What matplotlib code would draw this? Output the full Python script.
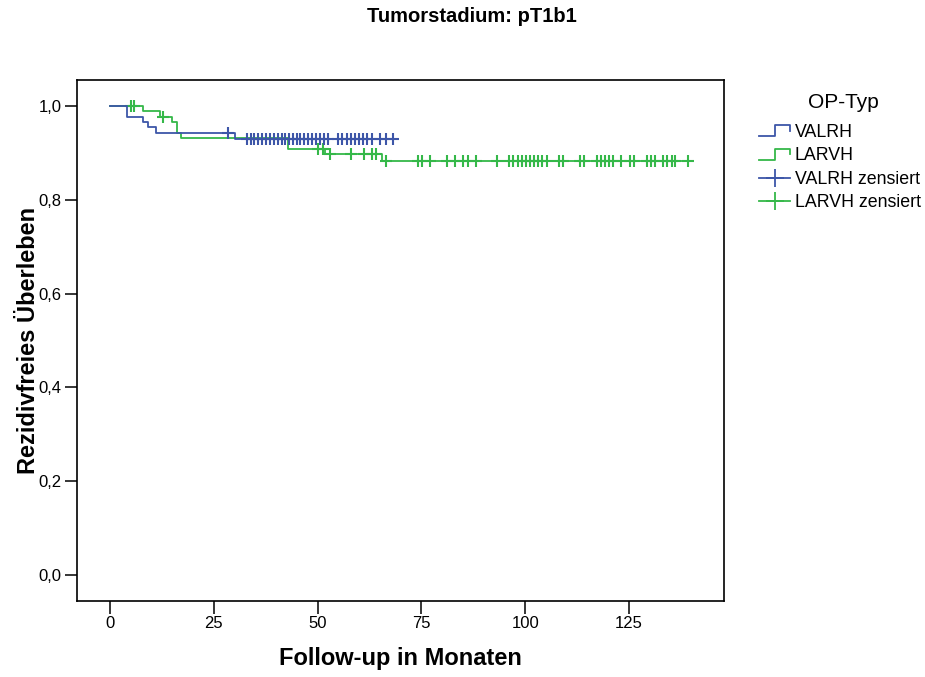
import matplotlib
matplotlib.use("Agg")
import matplotlib.pyplot as plt
import numpy as np
from matplotlib.lines import Line2D
from matplotlib.legend_handler import HandlerBase

plt.rcParams['font.family'] = ['Liberation Sans', 'DejaVu Sans']

# VALRH: event times (months) and survival after each event
valrh_events = [4.0, 7.9, 9.1, 11.0, 30.1]
valrh_surv = [0.977, 0.965, 0.954, 0.942, 0.929]
valrh_censored = [28.4, 33.0, 33.9, 34.8, 35.7, 36.7, 37.6, 38.5, 39.5, 40.4,
                  41.4, 42.1, 43.1, 44.0, 45.0, 45.8, 46.7, 47.6, 48.6, 49.6,
                  50.6, 51.5, 52.6, 55.0, 55.9, 57.0, 58.0, 59.0, 60.0, 61.0,
                  62.0, 63.0, 65.0, 66.5, 68.1]

# LARVH
larvh_events = [7.9, 12.0, 14.9, 16.2, 17.1, 42.9, 51.8, 65.5]
larvh_surv = [0.990, 0.977, 0.966, 0.943, 0.931, 0.908, 0.897, 0.883]
larvh_censored = [5.1, 5.9, 12.8, 50.2, 51.2, 53.0, 58.0, 61.2, 63.0, 64.1,
                  66.4, 74.3, 75.1, 77.1, 81.1, 83.1, 85.1, 86.2, 88.2, 93.3,
                  96.1, 97.1, 98.2, 99.2, 100.1, 101.2, 102.1, 103.2, 104.1, 105.2,
                  108.2, 109.2, 113.2, 114.2, 117.2, 118.3, 119.2, 120.2, 121.2, 123.2,
                  125.2, 126.2, 129.3, 130.2, 131.3, 133.3, 134.2, 135.3, 136.2, 139.3]

x_ticks = [0, 25, 50, 75, 100, 125]
y_ticks = [0.0, 0.2, 0.4, 0.6, 0.8, 1.0]

blue = '#3d56a8'
green = '#35b849'


def km_curve(events, surv, censored):
    t = np.r_[0.0, events, max(censored)]
    s = np.r_[1.0, surv, surv[-1]]
    idx = np.searchsorted(events, censored, side='right')
    cs = np.r_[1.0, surv][idx]
    return t, s, cs


class HandlerStep(HandlerBase):
    def create_artists(self, legend, orig_handle, xdescent, ydescent,
                       width, height, fontsize, trans):
        xs = np.array([0, 0.5, 0.5, 1.0, 1.0]) * width - xdescent
        ys = np.array([0.05, 0.05, 0.95, 0.95, 0.5]) * height - ydescent
        ln = Line2D(xs, ys, color=orig_handle.get_color(),
                    lw=orig_handle.get_linewidth())
        ln.set_transform(trans)
        return [ln]


fig = plt.figure(figsize=(9.25, 6.77), dpi=100)
ax = fig.add_axes([77 / 925, 76 / 677, 647 / 925, 521 / 677])

for events, surv, cens, col in [(larvh_events, larvh_surv, larvh_censored, green),
                                (valrh_events, valrh_surv, valrh_censored, blue)]:
    t, s, cs = km_curve(events, surv, cens)
    ax.plot(t, s, drawstyle='steps-post', color=col, lw=1.3)
    ax.plot(cens, cs, linestyle='none', marker='+', markersize=9,
            markeredgewidth=1.5, color=col)

ax.set_xlim(-7.95, 147.9)
ax.set_ylim(-0.055, 1.055)
ax.set_xticks(x_ticks)
ax.set_yticks(y_ticks)
ax.set_yticklabels([f'{v:.1f}'.replace('.', ',') for v in y_ticks])
ax.tick_params(direction='out', length=9, width=1.1, labelsize=12, pad=2)
for sp in ax.spines.values():
    sp.set_linewidth(1.2)

ax.set_xlabel('Follow-up in Monaten', fontsize=17, fontweight='bold')
ax.xaxis.set_label_coords(0.5, -0.11)
ax.xaxis.label.set_va('center')
ax.set_ylabel('Rezidivfreies Überleben', fontsize=17, fontweight='bold')
ax.yaxis.set_label_coords(-0.0757, 0.5)
ax.yaxis.label.set_va('center')

fig.text(0.51, 1 - 17 / 677, 'Tumorstadium: pT1b1', ha='center', va='center',
         fontsize=14.5, fontweight='bold')

fig.text(843 / 925, 1 - 103 / 677, 'OP-Typ', ha='center', va='center', fontsize=15)

h_valrh = Line2D([], [], color=blue, lw=1.3)
h_larvh = Line2D([], [], color=green, lw=1.3)
h_vc = Line2D([], [], color=blue, lw=1.3, marker='+', markersize=13, markeredgewidth=1.3)
h_lc = Line2D([], [], color=green, lw=1.3, marker='+', markersize=13, markeredgewidth=1.3)
fig.legend([h_valrh, h_larvh, h_vc, h_lc],
           ['VALRH', 'LARVH', 'VALRH zensiert', 'LARVH zensiert'],
           handler_map={h_valrh: HandlerStep(), h_larvh: HandlerStep()},
           loc='upper left', bbox_to_anchor=(759 / 925, 1 - 124 / 677),
           frameon=False, fontsize=12.8,
           handlelength=1.75, handletextpad=0.25, labelspacing=0.36,
           borderpad=0, borderaxespad=0)

fig.savefig('out.png', dpi=100)
